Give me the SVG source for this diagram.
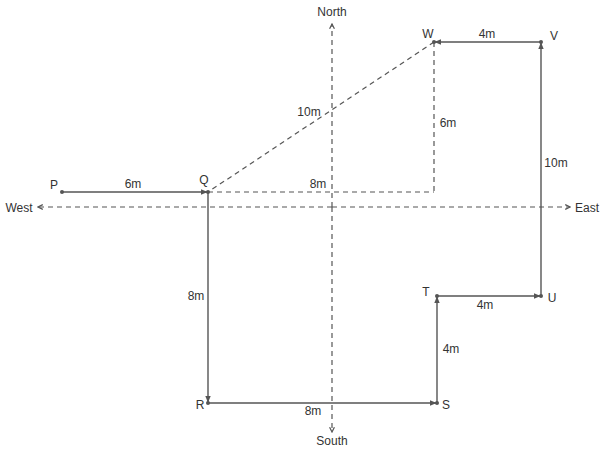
<svg xmlns="http://www.w3.org/2000/svg" width="608" height="455" viewBox="0 0 608 455">
<style>
text{font-family:"Liberation Sans",Arial,sans-serif;font-size:12px;fill:#333}
.s{stroke:#555;stroke-width:1.4;fill:none}
.d{stroke:#555;stroke-width:1.2;fill:none;stroke-dasharray:5,4}
.dot{fill:#555}
</style>
<defs>
<marker id="a" viewBox="0 0 10 10" refX="9" refY="5" markerWidth="5" markerHeight="5" orient="auto">
<path d="M1,1 L9,5 L1,9" fill="none" stroke="#555" stroke-width="2"/>
</marker>
<marker id="f" viewBox="0 0 10 10" refX="9" refY="5" markerWidth="5" markerHeight="5" orient="auto">
<path d="M0,1 L10,5 L0,9 Z" fill="#555"/>
</marker>
</defs>
<rect width="608" height="455" fill="#fff"/>
<g id="connectors">
<line class="d" x1="332" y1="207" x2="332" y2="24" marker-end="url(#a)"/>
<line class="d" x1="332" y1="207" x2="332" y2="432" marker-end="url(#a)"/>
<line class="d" x1="332" y1="207" x2="38" y2="207" marker-end="url(#a)"/>
<line class="d" x1="332" y1="207" x2="570" y2="207" marker-end="url(#a)"/>
<line class="d" x1="434" y1="42" x2="208" y2="192"/>
<line class="d" x1="434" y1="42" x2="434" y2="192"/>
<line class="d" x1="208" y1="192" x2="434" y2="192"/>
<line class="s" x1="62" y1="192" x2="207" y2="192" marker-end="url(#f)"/>
<line class="s" x1="208" y1="192" x2="208" y2="402" marker-end="url(#f)"/>
<line class="s" x1="208" y1="403" x2="436" y2="403" marker-end="url(#f)"/>
<line class="s" x1="437" y1="403" x2="437" y2="297" marker-end="url(#f)"/>
<line class="s" x1="437" y1="296" x2="540" y2="296" marker-end="url(#f)"/>
<line class="s" x1="541" y1="296" x2="541" y2="43" marker-end="url(#f)"/>
<line class="s" x1="541" y1="42" x2="435" y2="42" marker-end="url(#f)"/>
</g>
<g id="P"><circle class="dot" cx="62" cy="192" r="2"/><text x="54" y="189" text-anchor="middle">P</text></g>
<g id="Q"><circle class="dot" cx="208" cy="192" r="2"/><text x="204" y="184" text-anchor="middle">Q</text></g>
<g id="R"><circle class="dot" cx="208" cy="403" r="2"/><text x="200" y="409" text-anchor="middle">R</text></g>
<g id="S"><circle class="dot" cx="437" cy="403" r="2"/><text x="446" y="409" text-anchor="middle">S</text></g>
<g id="T"><circle class="dot" cx="437" cy="296" r="2"/><text x="426" y="296" text-anchor="middle">T</text></g>
<g id="U"><circle class="dot" cx="541" cy="296" r="2"/><text x="552" y="302" text-anchor="middle">U</text></g>
<g id="V"><circle class="dot" cx="541" cy="42" r="2"/><text x="554" y="40" text-anchor="middle">V</text></g>
<g id="W"><circle class="dot" cx="434" cy="42" r="2"/><text x="428" y="38" text-anchor="middle">W</text></g>
<g id="labels">
<text x="332" y="16" text-anchor="middle">North</text>
<text x="332" y="445" text-anchor="middle">South</text>
<text x="19" y="212" text-anchor="middle">West</text>
<text x="587" y="212" text-anchor="middle">East</text>
<text x="133" y="188" text-anchor="middle">6m</text>
<text x="196" y="300" text-anchor="middle">8m</text>
<text x="313" y="415" text-anchor="middle">8m</text>
<text x="451" y="353" text-anchor="middle">4m</text>
<text x="485" y="309" text-anchor="middle">4m</text>
<text x="556" y="167" text-anchor="middle">10m</text>
<text x="487" y="38" text-anchor="middle">4m</text>
<text x="309" y="116" text-anchor="middle">10m</text>
<text x="448" y="127" text-anchor="middle">6m</text>
<text x="318" y="188" text-anchor="middle">8m</text>
</g>
</svg>
